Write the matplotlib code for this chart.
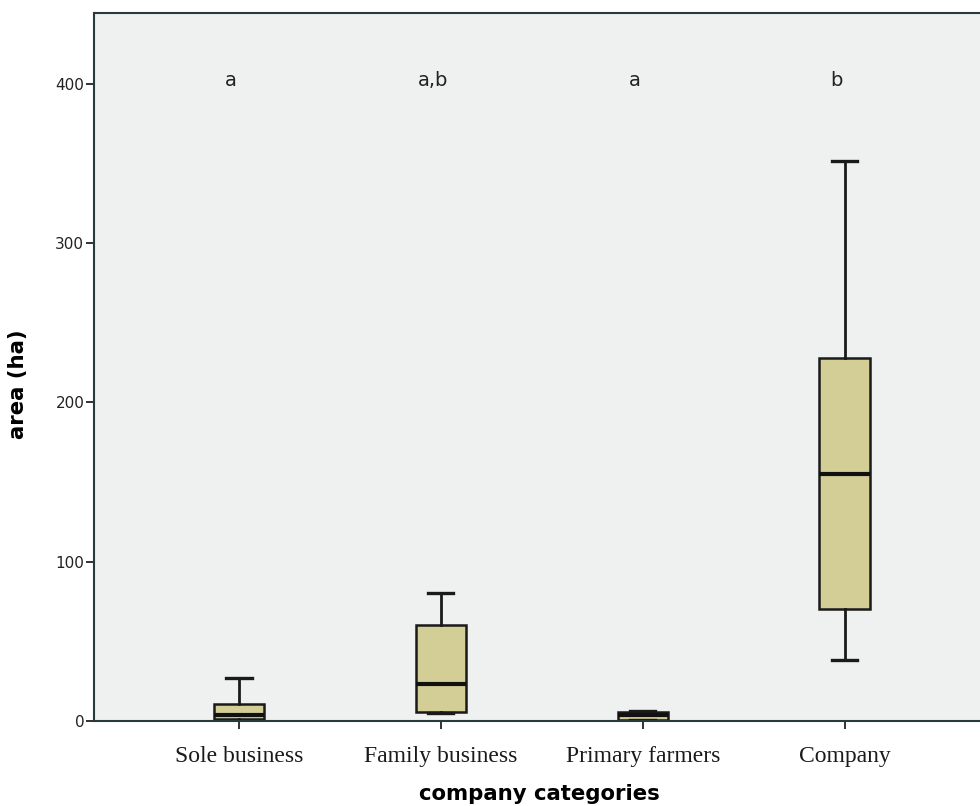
import matplotlib
matplotlib.use("Agg")
import matplotlib.pyplot as plt

categories = ["Sole business", "Family business", "Primary farmers", "Company"]
whislo = [0.0, 4.8, 0.6, 38.3]
q1 = [1.0, 5.5, 0.6, 70.0]
med = [4.0, 23.2, 3.5, 155.0]
q3 = [10.9, 60.0, 5.4, 228.0]
whishi = [27.0, 80.2, 6.5, 351.6]
letters = ["a", "a,b", "a", "b"]
letter_y = 402

fig = plt.figure(figsize=(9.8, 8.06), dpi=100)
ax = fig.add_axes([0.0959, 0.1055, 0.9041, 0.8784])
ax.set_facecolor("#eff0f0")

stats = []
for i in range(len(categories)):
    stats.append(dict(whislo=whislo[i], q1=q1[i], med=med[i], q3=q3[i], whishi=whishi[i], fliers=[]))

pos = list(range(1, len(categories) + 1))
ax.bxp(stats, positions=pos, widths=0.25, patch_artist=True, showfliers=False,
       boxprops=dict(facecolor="#d3ce96", edgecolor="#1a1a1a", linewidth=1.8),
       medianprops=dict(color="#111111", linewidth=3),
       whiskerprops=dict(color="#1a1a1a", linewidth=2),
       capprops=dict(color="#1a1a1a", linewidth=2.4), capwidths=0.125)

for p, t in zip(pos, letters):
    ax.text(p - 0.04, letter_y, t, ha="center", va="center", fontsize=14, color="#222222",
            family="DejaVu Sans")

ax.set_xlim(0.282, 4.67)
ax.set_ylim(0, 444.6)
ax.set_yticks([0, 100, 200, 300, 400])
ax.set_xticks(pos)
ax.set_xticklabels(categories, family="Liberation Serif", fontsize=17, color="#1a1a1a")
for lab in ax.get_yticklabels():
    lab.set_fontsize(11)
    lab.set_color("#222222")
ax.tick_params(axis="both", direction="out", length=6, width=1.3, color="#222222")
ax.tick_params(axis="x", pad=12)
ax.tick_params(axis="y", pad=1)
for s in ["left", "top", "bottom"]:
    ax.spines[s].set_color("#2a3a3a")
    ax.spines[s].set_linewidth(1.5)
ax.spines["right"].set_visible(False)

ax.set_xlabel("company categories", fontsize=15.3, fontweight="bold")
ax.set_ylabel("area (ha)", fontsize=15.3, fontweight="bold")
ax.xaxis.set_label_coords(0.503, -0.089)
ax.yaxis.set_label_coords(-0.0745, 0.475)

fig.savefig("out.png", dpi=100)
